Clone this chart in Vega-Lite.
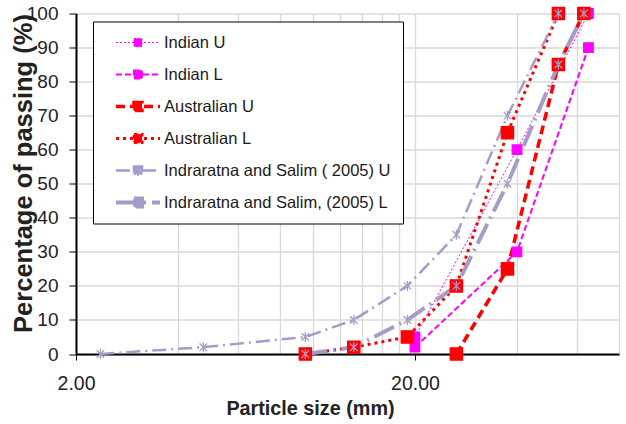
{
  "$schema": "https://vega.github.io/schema/vega-lite/v6.json",
  "width": 543,
  "height": 340.5,
  "autosize": "none",
  "padding": {"left": 76, "top": 13.5, "right": 7, "bottom": 70},
  "background": "white",
  "config": {"view": {"stroke": null}, "font": "Liberation Sans"},
  "data": {
    "values": [
      {"series": "Indian U", "size": 20, "pass": 5},
      {"series": "Indian U", "size": 40, "pass": 60},
      {"series": "Indian U", "size": 65, "pass": 100},
      {"series": "Indian L", "size": 20, "pass": 2},
      {"series": "Indian L", "size": 40, "pass": 30},
      {"series": "Indian L", "size": 65, "pass": 90},
      {"series": "Australian U", "size": 26.5, "pass": 0},
      {"series": "Australian U", "size": 37.5, "pass": 25},
      {"series": "Australian U", "size": 53, "pass": 85},
      {"series": "Australian U", "size": 63, "pass": 100},
      {"series": "Australian L", "size": 9.5, "pass": 0},
      {"series": "Australian L", "size": 13.2, "pass": 2},
      {"series": "Australian L", "size": 19, "pass": 5},
      {"series": "Australian L", "size": 26.5, "pass": 20},
      {"series": "Australian L", "size": 37.5, "pass": 65},
      {"series": "Australian L", "size": 53, "pass": 100},
      {"series": "Indraratna and Salim ( 2005) U", "size": 2.36, "pass": 0},
      {"series": "Indraratna and Salim ( 2005) U", "size": 4.75, "pass": 2},
      {"series": "Indraratna and Salim ( 2005) U", "size": 9.5, "pass": 5},
      {"series": "Indraratna and Salim ( 2005) U", "size": 13.2, "pass": 10},
      {"series": "Indraratna and Salim ( 2005) U", "size": 19, "pass": 20},
      {"series": "Indraratna and Salim ( 2005) U", "size": 26.5, "pass": 35},
      {"series": "Indraratna and Salim ( 2005) U", "size": 37.5, "pass": 70},
      {"series": "Indraratna and Salim ( 2005) U", "size": 53, "pass": 100},
      {"series": "Indraratna and Salim, (2005) L", "size": 9.5, "pass": 0},
      {"series": "Indraratna and Salim, (2005) L", "size": 13.2, "pass": 2},
      {"series": "Indraratna and Salim, (2005) L", "size": 19, "pass": 10},
      {"series": "Indraratna and Salim, (2005) L", "size": 26.5, "pass": 20},
      {"series": "Indraratna and Salim, (2005) L", "size": 37.5, "pass": 50},
      {"series": "Indraratna and Salim, (2005) L", "size": 53, "pass": 85},
      {"series": "Indraratna and Salim, (2005) L", "size": 63, "pass": 100}
    ]
  },
  "encoding": {
    "x": {
      "field": "size",
      "type": "quantitative",
      "title": "Particle size (mm)",
      "scale": {"type": "log", "domain": [2, 80], "nice": false},
      "axis": {
        "values": [2, 4, 6, 8, 10, 12, 14, 16, 18, 20, 40, 60, 80],
        "labelExpr": "datum.value == 2 || datum.value == 20 ? format(datum.value, '.2f') : ''",
        "labelFlush": false,
        "labelOverlap": false,
        "labelFontSize": 19.5,
        "labelColor": "#222222",
        "labelPadding": 14,
        "tickSize": 6,
        "tickColor": "black",
        "tickOpacity": {"condition": {"test": "datum.value == 2 || datum.value == 20", "value": 1}, "value": 0},
        "domainColor": "black",
        "domainWidth": 2,
        "gridColor": "#d9d9d9",
        "gridWidth": 1.3,
        "titleFontSize": 19.8,
        "titleFontWeight": "bold",
        "titleColor": "#222222",
        "titlePadding": 6,
        "titleX": 234
      }
    },
    "y": {
      "field": "pass",
      "type": "quantitative",
      "title": "Percentage of passing (%)",
      "scale": {"domain": [0, 100], "nice": false},
      "axis": {
        "values": [0, 10, 20, 30, 40, 50, 60, 70, 80, 90, 100],
        "labelFontSize": 19,
        "labelColor": "#222222",
        "labelPadding": 11,
        "tickSize": 7,
        "tickColor": "black",
        "domainColor": "black",
        "domainWidth": 2,
        "gridColor": "#d9d9d9",
        "gridWidth": 1.3,
        "titleFontSize": 25.5,
        "titleFontWeight": "bold",
        "titleColor": "#222222",
        "titleX": -40,
        "titleY": 159.5
      }
    }
  },
  "layer": [
    {
      "mark": {"type": "line", "strokeCap": "butt"},
      "encoding": {
        "color": {
          "field": "series",
          "type": "nominal",
          "scale": {
            "domain": ["Indian U", "Indian L", "Australian U", "Australian L", "Indraratna and Salim ( 2005) U", "Indraratna and Salim, (2005) L"],
            "range": ["#ff00ff", "#ff00ff", "#ff0000", "#ff0000", "#a79cc7", "#a79cc7"]
          },
          "legend": {
            "title": null,
            "orient": "none",
            "legendX": 17,
            "legendY": 8,
            "fillColor": "white",
            "strokeColor": "black",
            "padding": 12,
            "symbolType": "M-2.75,0H2.75M-0.5,-0.5H0.5V0.5H-0.5ZM-0.5,-0.5L0.5,0.5M-0.5,0.5L0.5,-0.5M0,-0.6V0.6",
            "symbolSize": 256,
            "symbolOffset": 23,
            "labelFontSize": 16.5,
            "labelColor": "#1a1a1a",
            "labelOffset": 16,
            "labelLimit": 400,
            "clipHeight": 18,
            "rowPadding": 14
          }
        },
        "strokeDash": {
          "field": "series",
          "type": "nominal",
          "scale": {
            "domain": ["Indian U", "Indian L", "Australian U", "Australian L", "Indraratna and Salim ( 2005) U", "Indraratna and Salim, (2005) L"],
            "range": [[2, 2], [6, 3], [9, 5], [3, 4], [14, 5, 2, 5], [22, 6, 2, 6]]
          }
        },
        "strokeWidth": {
          "field": "series",
          "type": "nominal",
          "scale": {
            "type": "ordinal",
            "domain": ["Indian U", "Indian L", "Australian U", "Australian L", "Indraratna and Salim ( 2005) U", "Indraratna and Salim, (2005) L"],
            "range": [1, 2, 3.5, 3, 2.5, 4]
          }
        }
      }
    },
    {
      "mark": {"type": "point", "filled": false, "opacity": 1, "strokeWidth": 1.3},
      "encoding": {
        "color": {"field": "series", "type": "nominal"},
        "fill": {
          "field": "series",
          "type": "nominal",
          "scale": {
            "domain": ["Indian U", "Indian L", "Australian U", "Australian L", "Indraratna and Salim ( 2005) U", "Indraratna and Salim, (2005) L"],
            "range": ["#ff00ff", "#ff00ff", "#ff0000", "#ff0000", "transparent", "transparent"]
          }
        },
        "shape": {
          "condition": {"test": "indexof(datum.series, 'Indraratna') >= 0", "value": "M-0.75,-0.75L0.75,0.75M-0.75,0.75L0.75,-0.75M0,-1V1"},
          "value": "square"
        },
        "size": {
          "condition": [
            {"test": "indexof(datum.series, 'Australian') >= 0", "value": 150},
            {"test": "indexof(datum.series, 'Indian') >= 0", "value": 90}
          ],
          "value": 100
        }
      }
    }
  ]
}
